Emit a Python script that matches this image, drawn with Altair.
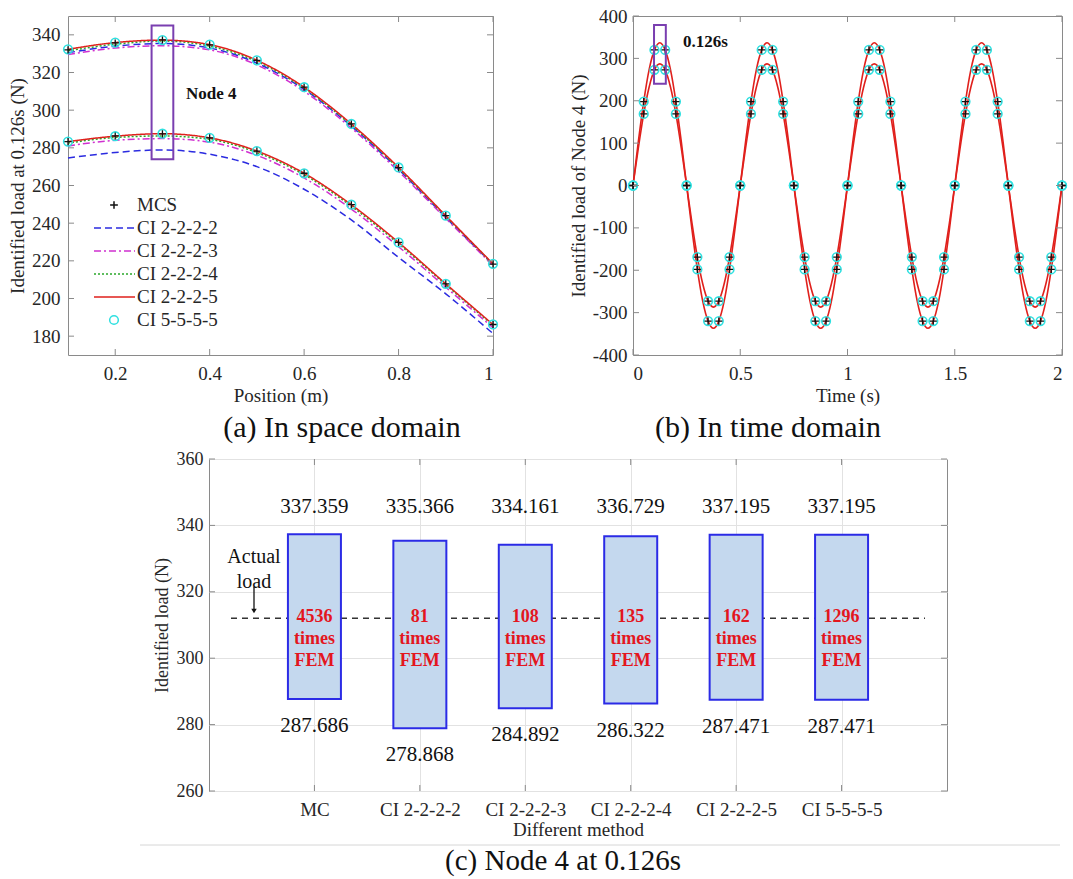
import altair as alt
import pandas as pd

FONT = "Liberation Serif"
TXT = "#262626"
BOX = "#8a8a8a"
TICK = "#8a8a8a"

# ---------------- (a) space domain ----------------
positions = [0.1, 0.2, 0.3, 0.4, 0.5, 0.6, 0.7, 0.8, 0.9, 1.0]
mcs_upper = [332.0, 335.7, 337.3, 334.7, 326.4, 312.2, 292.7, 269.5, 244.0, 218.3]
mcs_lower = [283.3, 286.3, 287.4, 285.3, 278.3, 266.5, 249.8, 229.8, 207.8, 186.2]
ci2222_upper = [330.5, 334.0, 335.4, 333.0, 325.0, 311.0, 291.5, 268.5, 243.0, 218.0]
ci2222_lower = [274.6, 277.5, 278.9, 276.6, 270.0, 258.0, 241.7, 221.8, 202.5, 181.4]
ci2223_upper = [329.5, 333.0, 334.2, 332.0, 324.0, 310.0, 290.5, 267.5, 242.5, 217.5]
ci2223_lower = [281.0, 284.0, 284.9, 283.0, 276.0, 264.0, 247.5, 227.5, 206.0, 184.5]
ci2224_upper = [331.5, 335.0, 336.7, 334.0, 325.8, 311.6, 292.0, 269.0, 243.6, 218.2]
ci2224_lower = [282.5, 285.5, 286.3, 284.5, 277.5, 265.7, 249.0, 229.0, 207.3, 185.7]
ci2225_upper = [332.3, 335.9, 337.2, 334.8, 326.5, 312.2, 292.7, 269.6, 244.0, 218.4]
ci2225_lower = [283.3, 286.2, 287.5, 285.3, 278.3, 266.5, 249.8, 229.8, 207.8, 186.2]
ci5555_upper = [332.3, 335.9, 337.2, 334.8, 326.5, 312.2, 292.7, 269.6, 244.0, 218.4]
ci5555_lower = [283.3, 286.2, 287.5, 285.3, 278.3, 266.5, 249.8, 229.8, 207.8, 186.2]

a_x_ticks = [0.2, 0.4, 0.6, 0.8, 1.0]
a_y_ticks = [180, 200, 220, 240, 260, 280, 300, 320, 340]
legend_labels = ["MCS", "CI 2-2-2-2", "CI 2-2-2-3", "CI 2-2-2-4", "CI 2-2-2-5", "CI 5-5-5-5"]

# ---------------- (b) time domain ----------------
curve_big = [0, 104, 198, 273, 320, 337, 320, 273, 198, 104, 0, -104, -198, -273, -320, -337, -320, -273, -198, -104,
             0, 104, 198, 273, 320, 337, 320, 273, 198, 104, 0, -104, -198, -273, -320, -337, -320, -273, -198, -104,
             0, 104, 198, 273, 320, 337, 320, 273, 198, 104, 0, -104, -198, -273, -320, -337, -320, -273, -198, -104,
             0, 104, 198, 273, 320, 337, 320, 273, 198, 104, 0, -104, -198, -273, -320, -337, -320, -273, -198, -104,
             0]
curve_small = [0, 89, 169, 232, 273, 287, 273, 232, 169, 89, 0, -89, -169, -232, -273, -287, -273, -232, -169, -89,
               0, 89, 169, 232, 273, 287, 273, 232, 169, 89, 0, -89, -169, -232, -273, -287, -273, -232, -169, -89,
               0, 89, 169, 232, 273, 287, 273, 232, 169, 89, 0, -89, -169, -232, -273, -287, -273, -232, -169, -89,
               0, 89, 169, 232, 273, 287, 273, 232, 169, 89, 0, -89, -169, -232, -273, -287, -273, -232, -169, -89,
               0]
marker_big = [0, 198, 320, 320, 198, 0, -198, -320, -320, -198,
              0, 198, 320, 320, 198, 0, -198, -320, -320, -198,
              0, 198, 320, 320, 198, 0, -198, -320, -320, -198,
              0, 198, 320, 320, 198, 0, -198, -320, -320, -198,
              0]
marker_small = [0, 169, 273, 273, 169, 0, -169, -273, -273, -169,
                0, 169, 273, 273, 169, 0, -169, -273, -273, -169,
                0, 169, 273, 273, 169, 0, -169, -273, -273, -169,
                0, 169, 273, 273, 169, 0, -169, -273, -273, -169,
                0]
curve_times = [round(i * 0.025, 3) for i in range(len(curve_big))]
marker_times = [round(i * 0.05, 3) for i in range(len(marker_big))]
b_x_ticks = [0, 0.5, 1, 1.5, 2]
b_y_ticks = [-400, -300, -200, -100, 0, 100, 200, 300, 400]

# ---------------- (c) node 4 at 0.126 s ----------------
methods = ["MC", "CI 2-2-2-2", "CI 2-2-2-3", "CI 2-2-2-4", "CI 2-2-2-5", "CI 5-5-5-5"]
upper = [337.359, 335.366, 334.161, 336.729, 337.195, 337.195]
lower = [287.686, 278.868, 284.892, 286.322, 287.471, 287.471]
fem_times = ["4536", "81", "108", "135", "162", "1296"]
actual_load = 312
c_y_ticks = [260, 280, 300, 320, 340, 360]
c_grid = [260, 265, 270, 275, 280, 285, 290, 295, 300, 305, 310, 315, 320, 325, 330, 335, 340, 345, 350, 355, 360]

COL = {"MCS": "#111111", "CI 2-2-2-2": "#2b2be0", "CI 2-2-2-3": "#d030d0",
       "CI 2-2-2-4": "#2aa82a", "CI 2-2-2-5": "#e0201c", "CI 5-5-5-5": "#2fe0e0"}
DASH = {"CI 2-2-2-2": [7, 4], "CI 2-2-2-3": [7, 3, 2, 3], "CI 2-2-2-4": [2, 2], "CI 2-2-2-5": [1, 0]}
PLUS = "M-1,0L1,0M0,-1L0,1"
PLAIN = "toString(datum.value)"

# ================= panel (a) =================
WA, HA = 425, 339
XA = alt.X("pos:Q", scale=alt.Scale(domain=[0.1, 1.0], nice=False, zero=False),
           axis=alt.Axis(values=a_x_ticks, labelExpr=PLAIN, title="Position (m)", labelPadding=9, titlePadding=3))
YA = alt.Y("val:Q", scale=alt.Scale(domain=[170, 350], nice=False, zero=False),
           axis=alt.Axis(values=a_y_ticks, labelExpr=PLAIN, title="Identified load at 0.126s (N)",
                         labelPadding=8, titlePadding=4))


def two_bounds(xs, up, lo, xname):
    return pd.DataFrame({xname: list(xs) + list(xs), "val": list(up) + list(lo),
                         "bound": ["upper"] * len(up) + ["lower"] * len(lo)})


def inner_ticks(xfield, xenc, xvals, yenc, yvals, W, H, L=6):
    dx = pd.DataFrame({xfield: xvals})
    dy = pd.DataFrame({"val": yvals})
    return [
        alt.Chart(dx).mark_rule(color=TICK, strokeWidth=1).encode(x=xenc, y=alt.value(H), y2=alt.value(H - L)),
        alt.Chart(dx).mark_rule(color=TICK, strokeWidth=1).encode(x=xenc, y=alt.value(0), y2=alt.value(L)),
        alt.Chart(dy).mark_rule(color=TICK, strokeWidth=1).encode(y=yenc, x=alt.value(0), x2=alt.value(L)),
        alt.Chart(dy).mark_rule(color=TICK, strokeWidth=1).encode(y=yenc, x=alt.value(W - L), x2=alt.value(W)),
    ]


def one():
    return pd.DataFrame({"k": [0]})


a_layers = []
for name, up, lo in [("CI 2-2-2-2", ci2222_upper, ci2222_lower), ("CI 2-2-2-3", ci2223_upper, ci2223_lower),
                     ("CI 2-2-2-4", ci2224_upper, ci2224_lower), ("CI 2-2-2-5", ci2225_upper, ci2225_lower)]:
    a_layers.append(alt.Chart(two_bounds(positions, up, lo, "pos")).mark_line(
        color=COL[name], strokeDash=DASH[name], strokeWidth=1.5, interpolate="monotone"
    ).encode(x=XA, y=YA, detail="bound:N"))
a_layers.append(alt.Chart(two_bounds(positions, ci5555_upper, ci5555_lower, "pos")).mark_point(
    shape="circle", filled=False, color=COL["CI 5-5-5-5"], size=75, strokeWidth=1.6, opacity=1
).encode(x=XA, y=YA))
a_layers.append(alt.Chart(two_bounds(positions, mcs_upper, mcs_lower, "pos")).mark_point(
    shape=PLUS, filled=False, color=COL["MCS"], size=50, strokeWidth=1.3, opacity=1
).encode(x=XA, y=YA))
a_layers.append(alt.Chart(one()).mark_rect(
    fillOpacity=0, stroke="#7a3fb0", strokeWidth=2
).encode(x=alt.datum(0.277), x2=alt.datum(0.323), y=alt.datum(274), y2=alt.datum(345)))
a_layers.append(alt.Chart(one()).mark_text(
    font=FONT, fontSize=17, fontWeight="bold", align="left", baseline="middle", color="#111"
).encode(x=alt.datum(0.35), y=alt.datum(308.5), text=alt.value("Node 4")))
# legend
for i, lab in enumerate(legend_labels):
    yy = 189 + 23 * i
    if lab in DASH:
        a_layers.append(alt.Chart(one()).mark_rule(
            color=COL[lab], strokeDash=DASH[lab], strokeWidth=1.5
        ).encode(x=alt.value(26), x2=alt.value(67), y=alt.value(yy)))
    else:
        shp = PLUS if lab == "MCS" else "circle"
        a_layers.append(alt.Chart(one()).mark_point(
            shape=shp, filled=False, color=COL[lab], size=60 if lab == "MCS" else 75, strokeWidth=1.5, opacity=1
        ).encode(x=alt.value(46), y=alt.value(yy)))
    a_layers.append(alt.Chart(one()).mark_text(
        font=FONT, fontSize=19, align="left", baseline="middle", color=TXT
    ).encode(x=alt.value(69), y=alt.value(yy), text=alt.value(lab)))
a_layers += inner_ticks("pos", XA, a_x_ticks, YA, a_y_ticks, WA, HA)
a_layers.append(alt.Chart(one()).mark_text(
    font=FONT, fontSize=30, align="center", baseline="middle", color="#111"
).encode(x=alt.value(274), y=alt.value(412), text=alt.value("(a) In space domain")))
panel_a = alt.layer(*a_layers).properties(width=WA, height=HA)

# ================= panel (b) =================
WB, HB = 429, 339
XB = alt.X("t:Q", scale=alt.Scale(domain=[0, 2], nice=False, zero=False),
           axis=alt.Axis(values=b_x_ticks, labelExpr=PLAIN, title="Time (s)", labelPadding=9, titlePadding=3))
YB = alt.Y("val:Q", scale=alt.Scale(domain=[-400, 400], nice=False, zero=False),
           axis=alt.Axis(values=b_y_ticks, labelExpr=PLAIN, title="Identified load of Node 4 (N)",
                         labelPadding=6, titlePadding=4))
b_layers = [
    alt.Chart(two_bounds(curve_times, curve_big, curve_small, "t")).mark_line(
        color=COL["CI 2-2-2-5"], strokeWidth=1.6, interpolate="monotone"
    ).encode(x=XB, y=YB, detail="bound:N"),
    alt.Chart(two_bounds(marker_times, marker_big, marker_small, "t")).mark_point(
        shape="circle", filled=False, color=COL["CI 5-5-5-5"], size=75, strokeWidth=1.6, opacity=1
    ).encode(x=XB, y=YB),
    alt.Chart(two_bounds(marker_times, marker_big, marker_small, "t")).mark_point(
        shape=PLUS, filled=False, color=COL["MCS"], size=50, strokeWidth=1.3, opacity=1
    ).encode(x=XB, y=YB),
    alt.Chart(one()).mark_rect(
        fillOpacity=0, stroke="#7a3fb0", strokeWidth=2
    ).encode(x=alt.datum(0.098), x2=alt.datum(0.153), y=alt.datum(240), y2=alt.datum(379)),
    alt.Chart(one()).mark_text(
        font=FONT, fontSize=17, fontWeight="bold", align="left", baseline="middle", color="#111"
    ).encode(x=alt.datum(0.233), y=alt.datum(338), text=alt.value("0.126s")),
]
b_layers += inner_ticks("t", XB, b_x_ticks, YB, b_y_ticks, WB, HB)
b_layers.append(alt.Chart(one()).mark_text(
    font=FONT, fontSize=30, align="center", baseline="middle", color="#111"
).encode(x=alt.value(135), y=alt.value(412), text=alt.value("(b) In time domain")))
panel_b = alt.layer(*b_layers).properties(width=WB, height=HB)

# ================= panel (c) =================
WC, HC = 738, 332
c_df = pd.DataFrame({"method": methods, "upper": upper, "lower": lower,
                     "fem": [f + "\ntimes\nFEM" for f in fem_times]})
XC = alt.X("method:N", sort=methods, scale=alt.Scale(type="point", padding=1),
           axis=alt.Axis(title="Different method", grid=True, gridColor="#e2e2e2", labelAngle=0,
                         labelFontSize=19, titleFontSize=19, labelPadding=9, titlePadding=1))
c_axis_y = alt.Axis(values=c_grid, title="Identified load (N)", grid=True, gridColor="#e2e2e2",
                    labelExpr="datum.value % 20 == 0 ? toString(datum.value) : ''",
                    labelFontSize=18, titleFontSize=18, labelPadding=6, titlePadding=5)
YC_scale = alt.Scale(domain=[260, 360], nice=False, zero=False)
YC = alt.Y("val:Q", scale=YC_scale, axis=c_axis_y)

c_layers = [
    alt.Chart(one()).mark_rule(color="#333333", strokeDash=[6, 5], strokeWidth=1.5).encode(
        x=alt.value(22), x2=alt.value(716), y=alt.datum(actual_load)),
    alt.Chart(c_df).mark_bar(size=53, fill="#c4d8ee", stroke="#2b2be6", strokeWidth=2).encode(
        x=XC, y=alt.Y("lower:Q", scale=YC_scale, axis=c_axis_y), y2="upper:Q"),
    alt.Chart(c_df).mark_text(font=FONT, fontSize=18, fontWeight="bold", color="#e3161e",
                              lineBreak="\n", lineHeight=22, baseline="middle").encode(
        x=XC, y=alt.value(158), text="fem:N"),
    alt.Chart(c_df).mark_text(font=FONT, fontSize=21, color="#111", baseline="middle").encode(
        x=XC, y=alt.value(48), text=alt.Text("upper:Q", format=".3f")),
    alt.Chart(c_df).mark_text(font=FONT, fontSize=21, color="#111", baseline="middle", dy=27).encode(
        x=XC, y=alt.Y("lower:Q", scale=YC_scale, axis=c_axis_y), text=alt.Text("lower:Q", format=".3f")),
    alt.Chart(one()).mark_text(font=FONT, fontSize=20, color="#111", lineBreak="\n",
                               lineHeight=25, baseline="middle").encode(
        x=alt.value(45), y=alt.value(98), text=alt.value("Actual\nload")),
    alt.Chart(one()).mark_rule(color="#111", strokeWidth=1.3).encode(
        x=alt.value(45), y=alt.value(128), y2=alt.value(150)),
    alt.Chart(one()).mark_point(shape="triangle-down", filled=True, color="#111", size=30,
                                opacity=1).encode(x=alt.value(45), y=alt.value(152)),
    alt.Chart(pd.DataFrame({"method": methods})).mark_rule(color=TICK).encode(
        x=XC, y=alt.value(HC), y2=alt.value(HC - 6)),
    alt.Chart(pd.DataFrame({"method": methods})).mark_rule(color=TICK).encode(
        x=XC, y=alt.value(0), y2=alt.value(6)),
    alt.Chart(pd.DataFrame({"val": c_y_ticks})).mark_rule(color=TICK).encode(
        y=YC, x=alt.value(0), x2=alt.value(6)),
    alt.Chart(pd.DataFrame({"val": c_y_ticks})).mark_rule(color=TICK).encode(
        y=YC, x=alt.value(WC - 6), x2=alt.value(WC)),
    alt.Chart(one()).mark_rule(color="#d6d6d6", strokeWidth=1).encode(
        x=alt.value(-69), x2=alt.value(851), y=alt.value(386)),
    alt.Chart(one()).mark_text(font=FONT, fontSize=29, color="#111", baseline="middle").encode(
        x=alt.value(354), y=alt.value(402), text=alt.value("(c) Node 4 at 0.126s")),
]
panel_c = alt.layer(*c_layers).properties(width=WC, height=HC)

spacer = alt.Chart(one()).mark_point(opacity=0).encode(
    x=alt.value(0), y=alt.value(0)).properties(width=1, height=1, view=alt.ViewBackground(strokeOpacity=0))

top = alt.hconcat(panel_a, panel_b, spacing=140).properties(bounds="flush")
bottom = alt.hconcat(spacer, panel_c, spacing=140).properties(bounds="flush")

chart = alt.vconcat(top, bottom, spacing=5).properties(
    padding={"left": 8, "top": 6, "right": 0, "bottom": 0}
).configure_view(stroke=BOX, strokeWidth=1).configure_axis(
    labelFont=FONT, titleFont=FONT, labelColor=TXT, titleColor=TXT, titleFontWeight="normal",
    domain=False, ticks=False, tickSize=0, labelFontSize=19, titleFontSize=19
).configure_axisX(grid=False).configure_axisY(grid=False)

chart.save("out.html", embed_options={"renderer": "svg", "actions": False})
